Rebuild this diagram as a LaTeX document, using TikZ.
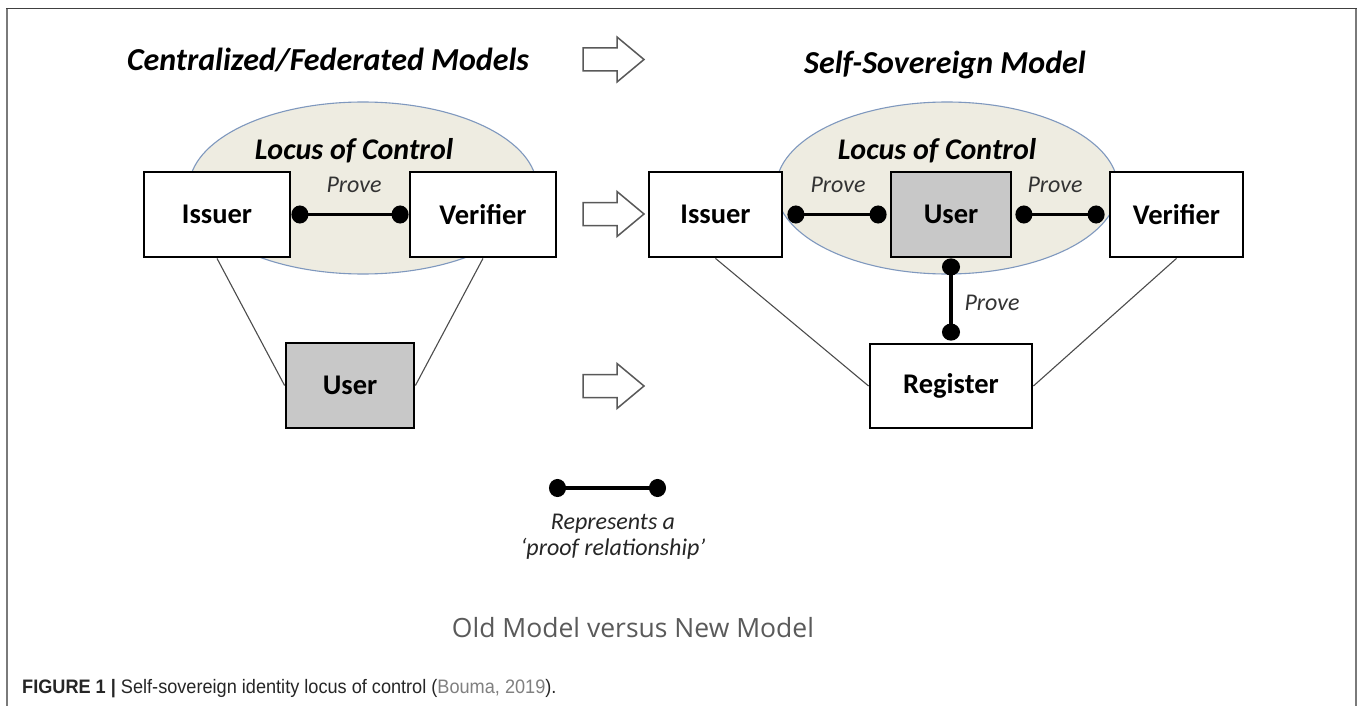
\documentclass[tikz,border=0pt]{standalone}
\usepackage{fontspec}
\setmainfont{Carlito}
\newfontfamily\uifont{Open Sans}
\newfontfamily\capfont[FakeStretch=0.93]{Liberation Sans}
\usetikzlibrary{arrows.meta}

\definecolor{locusfill}{HTML}{EEECE1}
\definecolor{locusline}{HTML}{7F98BE}
\definecolor{usergray}{HTML}{C8C8C8}
\definecolor{framegray}{HTML}{7A7A7A}
\definecolor{subtitlegray}{HTML}{5A5A5A}
\definecolor{citegray}{HTML}{808080}

\tikzset{
  entity/.style={draw=black, line width=2.8pt, fill=white, inner sep=0pt,
    minimum height=85pt, font=\bfseries\fontsize{28.5}{34}\selectfont},
  useritem/.style={entity, fill=usergray},
  locus/.style={draw=locusline, line width=1.1pt, fill=locusfill},
  title/.style={font=\bfseries\itshape\fontsize{32}{38}\selectfont},
  locuslabel/.style={font=\bfseries\itshape\fontsize{30}{36}\selectfont},
  provelabel/.style={font=\itshape\fontsize{24}{28}\selectfont, text=black!80},
  proof/.style={line width=3.5pt,
    {Circle[length=17pt,width=18pt]}-{Circle[length=17pt,width=18pt]}},
  link/.style={draw=black!70, line width=1.1pt},
  bigarrow/.style={draw=black!65, line width=1.5pt, fill=white, line join=miter},
  blockarrow/.pic={
    \draw[bigarrow] (-30.5,-11.5) -- (3.5,-11.5) -- (3.5,-22.5) -- (30.5,0)
      -- (3.5,22.5) -- (3.5,11.5) -- (-30.5,11.5) -- cycle;
  }
}

\begin{document}
\begin{tikzpicture}[x=1pt,y=-1pt]
  % page area and frame
  \useasboundingbox (0,0) rectangle (1358,706);
  \fill[white] (0,0) rectangle (1358,706);
  \draw[framegray, line width=1.8pt] (7,706) -- (7,8.5);
  \draw[framegray, line width=1.8pt] (1356,706) -- (1356,8.5);
  \draw[black!75, line width=1.8pt] (6.1,8.5) -- (1356.9,8.5);

  % headings
  \node[title] (ttlold) at (328,60) {Centralized/Federated Models};
  \node[title] (ttlnew) at (945,65) {Self-Sovereign Model};

  % transition arrows
  \pic (arrtop) at (613.5,59.5) {blockarrow};
  \pic (arrmid) at (613.5,214) {blockarrow};
  \pic (arrbot) at (613.5,386) {blockarrow};

  % ---------- old model ----------
  \draw[locus] (363,188) ellipse [x radius=174, y radius=86];
  \node[locuslabel] (locold) at (354,151) {Locus of Control};
  \node[entity, minimum width=146pt] (issold) at (217,214.5) {Issuer};
  \node[entity, minimum width=146pt] (verold) at (483,214.5) {Verifier};
  \node[useritem, minimum width=128pt] (usrold) at (350,385.5) {User};
  \draw[proof] (issold.east) -- (verold.west);
  \node[provelabel] (prvold) at (354,185) {Prove};
  \draw[link] (issold.south) -- (usrold.west);
  \draw[link] (verold.south) -- (usrold.east);

  % ---------- new model ----------
  \draw[locus] (947,188) ellipse [x radius=171, y radius=86];
  \node[locuslabel] (locnew) at (937,151) {Locus of Control};
  \node[entity, minimum width=133pt] (issnew) at (715.5,214.5) {Issuer};
  \node[useritem, minimum width=120pt] (usrnew) at (951,214.5) {User};
  \node[entity, minimum width=133pt] (vernew) at (1176.5,214.5) {Verifier};
  \node[entity, minimum width=162pt, minimum height=84pt] (regnew) at (951,386) {Register};
  \draw[proof, shorten <=4pt, shorten >=3pt] (issnew.east) -- (usrnew.west);
  \draw[proof, shorten <=3pt, shorten >=4pt] (usrnew.east) -- (vernew.west);
  \draw[proof, shorten >=2pt] (usrnew.south) -- (regnew.north);
  \node[provelabel] (prviu) at (838,185) {Prove};
  \node[provelabel] (prvuv) at (1055,185) {Prove};
  \node[provelabel] (prvur) at (992,303) {Prove};
  \draw[link] (issnew.south) -- (regnew.west);
  \draw[link] (vernew.south) -- (regnew.east);

  % ---------- legend ----------
  \coordinate (lga) at (549,488);
  \coordinate (lgb) at (666,488);
  \draw[proof] (lga) -- (lgb);
  \node[provelabel, text=black!85, align=center] (lgtxt) at (613,537)
    {Represents a\\[-2pt]`proof relationship'};

  % ---------- subtitle and caption ----------
  \node[font=\uifont\fontsize{26.5}{30}\selectfont, text=subtitlegray] (sub) at (633,628)
    {Old Model versus New Model};
  \node[anchor=west, font=\capfont\fontsize{19.5}{23}\selectfont, text=black!85, inner sep=0pt] (cap) at (22,689)
    {\textbf{FIGURE 1 |} Self-sovereign identity locus of control (\textcolor{citegray}{Bouma, 2019}).};
\end{tikzpicture}
\end{document}
